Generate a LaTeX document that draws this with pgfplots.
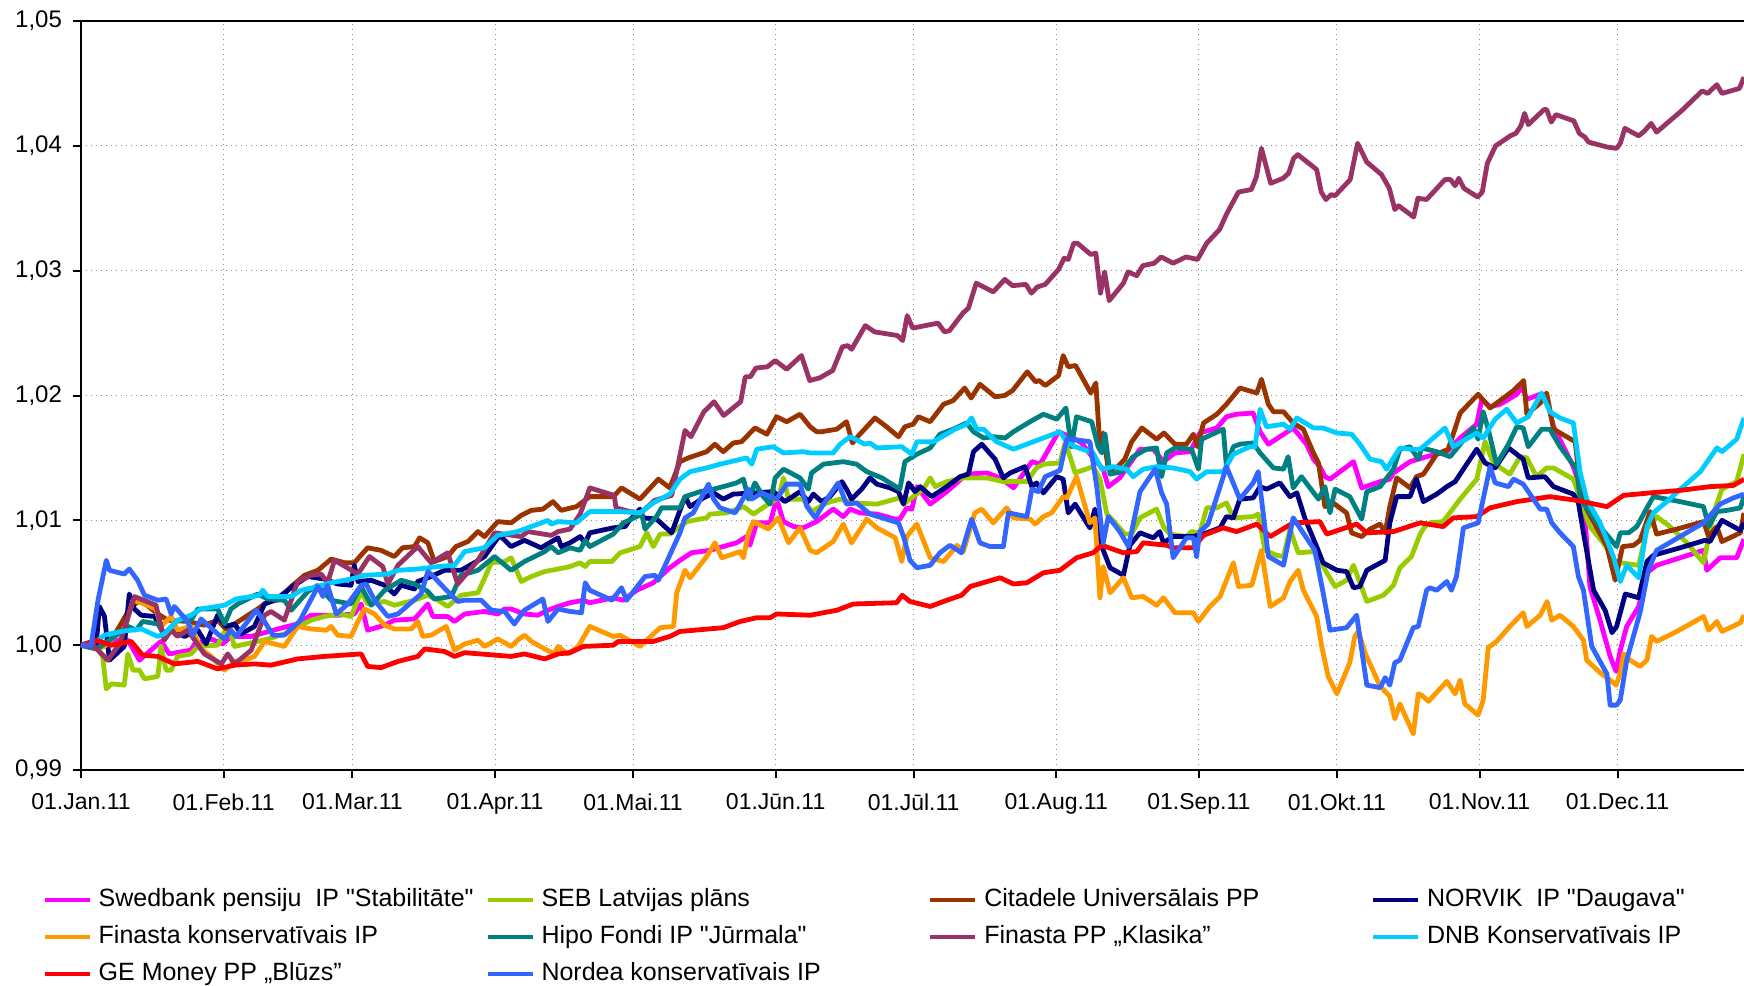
\documentclass[border=0pt]{standalone}
\usepackage{fontspec}
\setmainfont{Liberation Sans}[Ligatures=TeXOff]
\usepackage{pgfplots}
\pgfplotsset{compat=1.18}
\definecolor{cSwed}{HTML}{FF00FF}
\definecolor{cSEB}{HTML}{99CC00}
\definecolor{cCit}{HTML}{993300}
\definecolor{cNor}{HTML}{000080}
\definecolor{cFinK}{HTML}{FF9900}
\definecolor{cHipo}{HTML}{008080}
\definecolor{cKla}{HTML}{993366}
\definecolor{cDNB}{HTML}{00CCFF}
\definecolor{cGE}{HTML}{FF0000}
\definecolor{cNord}{HTML}{3366FF}
\begin{document}
\begin{tikzpicture}
\useasboundingbox (0,0) rectangle (872pt,-492.5pt);
\begin{axis}[
  at={(40.5pt,-385pt)}, anchor=south west,
  width=831.5pt, height=374.5pt, scale only axis,
  xmin=0, xmax=361.5, ymin=0.99, ymax=1.05,
  axis x line*=box, axis y line*=left,
  axis line style={line width=1.3pt, black},
  xtick={0,31,59,90,120,151,181,212,243,273,304,334},
  xticklabels={01.Jan.11,01.Feb.11,01.Mar.11,01.Apr.11,01.Mai.11,01.Jūn.11,01.Jūl.11,01.Aug.11,01.Sep.11,01.Okt.11,01.Nov.11,01.Dec.11},
  ytick={0.99,1,1.01,1.02,1.03,1.04,1.05},
  yticklabels={{0,99},{1,00},{1,01},{1,02},{1,03},{1,04},{1,05}},
  xtick pos=bottom, ytick pos=left,
  tick align=outside, major tick length=4pt,
  every tick/.style={black, line width=1pt},
  grid=major, major grid style={line width=0.5pt, black!45, dotted},
  xticklabel style={font=\fontsize{11.5}{13}\selectfont, yshift=-4.3pt},
  yticklabel style={font=\fontsize{12}{14}\selectfont, xshift=-2pt},
  legend columns=4,
  legend cell align=left,
  legend style={at={(axis description cs:-0.027,-0.156)}, anchor=north west, draw=none, fill=none,
    inner ysep=0pt,
    nodes={inner ysep=0pt, text height=9.5pt, text depth=3pt},
    font=\fontsize{12.5}{15}\selectfont, /tikz/every even column/.append style={column sep=0pt}, row sep=6pt},
  legend image code/.code={\draw[#1, line width=2.2pt] (0pt,0pt) -- (22.5pt,0pt); \path (23.8pt,0pt);},
  every axis plot/.append style={line width=2.4pt, line join=round},
]
% Swedbank
\addplot[cSwed] table {
x y
0 1.0000
3.7 0.9999
6.6 1.0004
10.2 1.0004
12.7 0.9988
15.2 0.9996
17.4 1.0003
19.2 0.9993
23.9 0.9996
24.7 1.0001
28.3 1.0005
30.8 1.0001
32.6 1.0007
37 1.0007
42.8 1.0013
47.1 1.0017
50 1.0024
55.8 1.0024
59.4 1.0025
60.9 1.0033
62.3 1.0012
66 1.0016
68.1 1.0020
72.5 1.0021
75.4 1.0033
76.5 1.0023
79.7 1.0023
81.2 1.0019
83.4 1.0025
87.7 1.0027
90.6 1.0025
92.1 1.0029
93.5 1.0029
96.4 1.0025
99.3 1.0024
101.5 1.0028
103.7 1.0031
106.3 1.0034
109.2 1.0036
110.6 1.0034
115.7 1.0038
117.9 1.0036
120.8 1.0044
124.4 1.0050
128 1.0062
130.2 1.0068
132.7 1.0074
136.7 1.0076
139.6 1.0079
142.5 1.0082
144.7 1.0087
145.4 1.0080
146.9 1.0098
149.8 1.0098
151.2 1.0117
152.7 1.0099
154.9 1.0095
157 1.0094
159.9 1.0099
163.5 1.0109
165.7 1.0103
167.2 1.0109
169.3 1.0106
173 1.0105
177 1.0101
178 1.0101
179.5 1.0110
180.6 1.0109
181.7 1.0127
184.6 1.0113
188.2 1.0123
192.5 1.0137
196.9 1.0138
199.8 1.0134
202.7 1.0126
206.7 1.0147
208.5 1.0145
212.5 1.0171
216.1 1.0165
217.5 1.0162
220 1.0150
222.2 1.0141
223.3 1.0127
225.8 1.0134
230.2 1.0157
233.1 1.0157
235.3 1.0147
237.8 1.0154
241.1 1.0155
243.2 1.0170
246.9 1.0174
249 1.0183
251.2 1.0185
254.8 1.0186
256.3 1.0171
258.1 1.0161
260.6 1.0167
263.5 1.0174
266.4 1.0161
267.9 1.0149
269.3 1.0143
270.4 1.0135
271.5 1.0133
273.7 1.0139
276.6 1.0147
278.4 1.0126
282.4 1.0131
284.5 1.0133
285.3 1.0138
288.9 1.0147
292.5 1.0151
296.9 1.0155
299.8 1.0166
303.4 1.0177
304.5 1.0197
306.3 1.0191
308.5 1.0193
312.1 1.0201
313.2 1.0207
314.3 1.0197
317.2 1.0201
318.6 1.0197
320.1 1.0175
324.4 1.0143
326.6 1.0119
328 1.0047
330.2 1.0020
332.4 0.9991
333.7 0.9979
334.6 0.9996
336 1.0015
338.6 1.0031
340.4 1.0058
342.5 1.0064
347.6 1.0070
352.7 1.0076
353.4 1.0060
356.3 1.0070
359.9 1.0070
361.5 1.0085
};
\addlegendentry{\makebox[191.3pt][l]{Swedbank pensiju\ \ IP "Stabilitāte"}}
% SEB
\addplot[cSEB] table {
x y
0 1.0000
3.3 0.9999
4.7 0.9991
5.5 0.9965
6.6 0.9969
9.4 0.9968
10.2 0.9993
11.3 0.9980
12.7 0.9980
13.8 0.9973
16.7 0.9975
17.4 0.9999
18.5 0.9980
19.6 0.9980
21 0.9991
23.9 0.9993
25.4 0.9999
29.7 1.0000
31.9 1.0016
33.4 0.9999
38.4 1.0003
40.6 1.0005
44.2 1.0009
50 1.0020
52.9 1.0023
56.5 1.0025
58.7 1.0023
60.9 1.0043
62.3 1.0033
66 1.0035
68.1 1.0032
72.5 1.0036
75.4 1.0040
77.6 1.0036
79.7 1.0031
82.6 1.0040
86.3 1.0042
89.2 1.0066
92.1 1.0067
93.5 1.0070
95.7 1.0051
97.9 1.0055
100.8 1.0059
103.7 1.0061
106.3 1.0063
108.5 1.0066
109.6 1.0063
110.6 1.0067
115.4 1.0067
117.2 1.0074
121.5 1.0079
123 1.0090
124.4 1.0079
125.9 1.0089
128 1.0089
130.2 1.0095
131.7 1.0099
136 1.0102
136.7 1.0105
140.4 1.0106
144 1.0111
146.2 1.0105
149.8 1.0114
151.6 1.0118
152.7 1.0134
153.8 1.0117
157 1.0117
158.8 1.0107
162.1 1.0114
165 1.0117
167.9 1.0114
173 1.0113
178 1.0118
178.8 1.0113
180.9 1.0119
183.1 1.0125
184.6 1.0134
185.7 1.0127
188.2 1.0131
191.8 1.0134
196.9 1.0134
200.5 1.0131
205.6 1.0131
207.7 1.0142
209.2 1.0145
212.8 1.0146
213.9 1.0162
215 1.0151
216.1 1.0138
220 1.0143
221.5 1.0133
223 1.0105
224.8 1.0098
226.9 1.0089
228.4 1.0089
230.2 1.0102
233.8 1.0109
235.3 1.0095
236.7 1.0089
240.3 1.0087
241.4 1.0091
243.2 1.0090
244.7 1.0110
246.9 1.0110
249 1.0114
250.5 1.0102
254.8 1.0103
255.9 1.0105
257.4 1.0076
259.9 1.0072
261.4 1.0071
262.8 1.0093
264.6 1.0074
267.9 1.0075
269.3 1.0068
270.8 1.0058
272.6 1.0047
275.1 1.0052
276.6 1.0064
279.5 1.0035
283.1 1.0040
285.3 1.0048
286.7 1.0062
289.2 1.0071
291.1 1.0089
292.1 1.0095
293.2 1.0098
296.1 1.0099
299.8 1.0117
303.4 1.0133
305.2 1.0163
307 1.0146
310.6 1.0137
312.8 1.0151
314.3 1.0150
316.4 1.0135
318.6 1.0142
320.1 1.0142
324.4 1.0133
328 1.0095
330.9 1.0082
333.5 1.0067
334.6 1.0066
338.6 1.0064
340.4 1.0093
342.5 1.0103
345.4 1.0095
349.1 1.0082
352.7 1.0066
354.9 1.0106
356.7 1.0125
359.9 1.0131
361.5 1.0153
};
\addlegendentry{\makebox[191.3pt][l]{SEB Latvijas plāns}}
% Citadele
\addplot[cCit] table {
x y
0 1.0000
3.7 0.9997
6.6 1.0004
10.9 1.0031
13 1.0036
16.7 1.0025
18.9 1.0020
23.2 1.0019
26.8 1.0016
29.7 1.0020
31.5 1.0013
33.4 1.0017
38.4 1.0029
41 1.0036
42.8 1.0036
45.7 1.0047
48.6 1.0056
51.5 1.0060
54.4 1.0069
57.3 1.0066
59.4 1.0066
62.3 1.0078
65.2 1.0076
68.1 1.0071
69.9 1.0078
72.5 1.0079
73.6 1.0086
75.4 1.0082
76.8 1.0067
79.7 1.0071
81.5 1.0079
84.1 1.0083
86.3 1.0091
87.7 1.0087
90.6 1.0099
93.5 1.0098
95.7 1.0104
97.9 1.0108
100.4 1.0109
102.6 1.0115
104.4 1.0108
107.7 1.0111
110.6 1.0119
115.7 1.0119
117.5 1.0126
121.5 1.0117
125.5 1.0133
128 1.0126
130.2 1.0147
132 1.0150
136 1.0155
137.8 1.0161
139.6 1.0155
141.8 1.0162
143.6 1.0163
146.5 1.0174
149.1 1.0169
151.2 1.0183
153.4 1.0179
156.3 1.0185
158.5 1.0175
159.9 1.0171
161 1.0171
164.3 1.0173
166.4 1.0179
167.7 1.0162
169.3 1.0169
172.6 1.0182
175.1 1.0175
177.7 1.0167
179.1 1.0175
180.9 1.0177
182 1.0183
184.6 1.0179
187.5 1.0193
189.6 1.0196
192.1 1.0206
193.5 1.0198
195.4 1.0209
198.7 1.0199
200.8 1.0200
202.5 1.0204
205.7 1.0219
207.5 1.0211
208.3 1.0212
209.6 1.0208
212.5 1.0216
213.5 1.0232
214.6 1.0223
216.2 1.0224
219.5 1.0202
220.6 1.0210
221.5 1.0159
222.2 1.0170
223.3 1.0141
225.1 1.0142
226.9 1.0149
228.4 1.0163
230.6 1.0174
233.8 1.0165
235.4 1.0170
237.8 1.0161
240.3 1.0161
241.8 1.0169
242.7 1.0159
244 1.0178
246.9 1.0185
249 1.0193
251.9 1.0206
255.6 1.0202
256.6 1.0213
258.1 1.0193
259.2 1.0187
261.4 1.0187
263.5 1.0178
265.7 1.0173
267.9 1.0154
269 1.0146
270.4 1.0111
272.2 1.0114
275.1 1.0106
276.2 1.0090
278.4 1.0087
280.2 1.0093
282.4 1.0097
283.5 1.0090
284.5 1.0111
286 1.0134
288.9 1.0126
290.3 1.0135
291.8 1.0137
294.7 1.0153
297.2 1.0157
299.8 1.0186
303.7 1.0201
306.3 1.0190
311.4 1.0204
313.6 1.0212
314.3 1.0185
317.2 1.0194
318.6 1.0202
320.1 1.0173
324.8 1.0163
325.9 1.0127
327.3 1.0109
331.7 1.0079
333.5 1.0052
335.1 1.0079
337.5 1.0080
338.9 1.0084
341.1 1.0107
342.5 1.0089
346.9 1.0093
352.7 1.0099
353.8 1.0087
355.6 1.0095
356.7 1.0083
360.7 1.0090
361.5 1.0106
};
\addlegendentry{\makebox[191.3pt][l]{Citadele Universālais PP}}
% NORVIK
\addplot[cNor] table {
x y
0 1.0000
3.3 1.0000
4.0 1.0031
5.1 1.0023
6.2 0.9988
9.4 0.9999
10.5 1.0041
11.6 1.0029
13.1 1.0024
16 1.0023
18.1 1.0008
19.6 1.0012
22.5 1.0007
25.4 1.0012
27.2 1.0001
29.7 1.0024
31.5 1.0015
33.4 1.0017
34.8 1.0009
37.7 1.0015
39.9 1.0033
42.1 1.0036
46.4 1.0048
49.3 1.0055
52.9 1.0053
55.8 1.0049
58.7 1.0048
59.4 1.0064
60.2 1.0051
63.1 1.0052
66 1.0048
68.1 1.0041
69.6 1.0048
72.5 1.0045
73.2 1.0051
76.1 1.0055
79 1.0060
82.6 1.0060
85.5 1.0066
87.7 1.0071
91 1.0088
93.5 1.0079
96.4 1.0084
100 1.0078
103.7 1.0086
104.4 1.0079
106.3 1.0082
108.5 1.0087
109.6 1.0082
110.6 1.0090
115.7 1.0094
118.3 1.0095
119 1.0099
121.5 1.0109
122.2 1.0102
125.1 1.0101
128.4 1.0090
131.3 1.0119
132.4 1.0111
135.3 1.0118
137.5 1.0122
139.6 1.0117
141.8 1.0121
146.2 1.0122
150.5 1.0123
153 1.0115
156.3 1.0123
158.1 1.0115
159.2 1.0121
161 1.0115
162.8 1.0119
165.4 1.0131
166.4 1.0125
167.5 1.0117
169.7 1.0125
171.5 1.0134
173 1.0129
175.9 1.0126
177.7 1.0123
178.8 1.0113
179.9 1.0130
181.3 1.0123
182.4 1.0127
184.9 1.0119
188.2 1.0127
191.1 1.0135
192.9 1.0137
194 1.0155
195.8 1.0161
198.7 1.0149
200.5 1.0134
202 1.0138
205.2 1.0143
206.7 1.0127
207.7 1.0130
209.2 1.0122
212.1 1.0135
213.5 1.0133
214.6 1.0106
216.1 1.0113
219.3 1.0094
220.4 1.0109
221.9 1.0079
223.7 1.0062
226.6 1.0056
228 1.0080
230.2 1.0090
233.1 1.0086
234.5 1.0091
235.3 1.0082
237.4 1.0087
241.8 1.0087
244.7 1.0090
247.6 1.0094
249 1.0103
250.5 1.0102
251.9 1.0117
254.8 1.0118
256.3 1.0127
257.7 1.0125
260.6 1.0130
262.8 1.0119
264.3 1.0122
266.1 1.0101
268.6 1.0079
270 1.0066
271.5 1.0063
273 1.0060
275.1 1.0059
276.6 1.0046
278 1.0047
279.5 1.0060
283.5 1.0068
284.5 1.0098
286 1.0119
288.9 1.0119
290.3 1.0133
291.8 1.0115
294.7 1.0121
296.9 1.0127
298.7 1.0131
300.5 1.0141
303.4 1.0157
305.2 1.0146
307.4 1.0142
310.3 1.0158
313.5 1.0149
314.6 1.0134
318.2 1.0135
320.1 1.0127
324.4 1.0121
325.5 1.0114
326.6 1.0090
328.8 1.0044
331.3 1.0028
332.8 1.0010
333.8 1.0015
335.7 1.0041
338.6 1.0038
340.4 1.0067
341.8 1.0072
347.6 1.0078
353 1.0084
354.1 1.0083
356.7 1.0100
360.7 1.0092
361.5 1.0098
};
\addlegendentry{NORVIK\ \ IP "Daugava"}
% Finasta konservativais
\addplot[cFinK] table {
x y
0 1.0000
3.3 0.9997
5.1 0.9999
7.3 1.0007
9.4 1.0012
11.3 1.0036
13.8 1.0033
16.3 1.0029
17.4 1.0015
19.6 1.0023
21 1.0012
23.9 1.0015
26.1 0.9997
28.3 0.9991
31.2 0.9980
33.4 0.9987
35.5 0.9988
37.7 0.9991
39.9 1.0003
44.2 0.9999
47.1 1.0015
50 1.0013
53.3 1.0012
54.4 1.0015
55.8 1.0008
58.7 1.0007
60.2 1.0019
61.6 1.0029
63.8 1.0025
66 1.0016
68.1 1.0013
71.8 1.0013
73.2 1.0019
74.3 1.0007
76.1 1.0008
79.4 1.0015
81.2 0.9996
83.4 1.0001
86.3 1.0004
87.7 0.9999
90.6 1.0005
93.5 0.9999
94.9 1.0004
96.4 1.0008
97.9 1.0003
100.8 0.9997
102.9 0.9993
103.7 0.9999
105.8 0.9993
108.1 0.9999
110.6 1.0015
115.7 1.0007
117.2 1.0008
121.5 0.9999
125.9 1.0014
128.8 1.0015
129.5 1.0042
131.3 1.0060
132.4 1.0054
136 1.0071
137.8 1.0082
139.3 1.0070
143.3 1.0075
144 1.0070
145.1 1.0090
146.2 1.0099
149.4 1.0093
151.6 1.0102
153.8 1.0082
156.3 1.0094
158.5 1.0076
159.9 1.0074
163.5 1.0083
165.7 1.0097
167.5 1.0082
170.8 1.0101
173 1.0094
177 1.0086
178.4 1.0067
179.5 1.0087
181.7 1.0097
184.6 1.0070
187.5 1.0067
190.4 1.0080
191.8 1.0075
194.3 1.0106
195.8 1.0109
198.3 1.0098
201.2 1.0110
202.7 1.0102
206.3 1.0101
207.4 1.0097
209.2 1.0103
211 1.0106
213.5 1.0119
214.3 1.0118
216.4 1.0135
219.3 1.0098
220.4 1.0102
221.5 1.0038
222.2 1.0063
223.7 1.0042
226.6 1.0054
228.4 1.0038
230.9 1.0039
233.8 1.0032
235.3 1.0038
237.8 1.0026
241.8 1.0026
242.9 1.0019
245.4 1.0031
247.6 1.0039
249 1.0052
250.5 1.0066
251.6 1.0047
254.5 1.0048
256.6 1.0076
258.5 1.0031
261.4 1.0038
262.8 1.0051
264.6 1.0060
265.7 1.0044
268.6 1.0023
269.7 0.9999
271.1 0.9975
273 0.9961
275.8 0.9986
276.9 1.0007
277.7 1.0011
279.1 0.9994
282.4 0.9967
284.5 0.9959
285.6 0.9941
286.7 0.9953
289.6 0.9929
290.7 0.9961
291.4 0.9960
292.9 0.9955
296.9 0.9971
298.7 0.9961
299.8 0.9972
300.8 0.9953
303.7 0.9944
304.8 0.9956
305.9 0.9998
307.7 1.0003
310.6 1.0015
313.5 1.0026
314.3 1.0015
317.2 1.0024
318.7 1.0035
319.7 1.0020
321.5 1.0024
324.4 1.0015
326.6 1.0004
327.3 0.9988
330.2 0.9978
332.4 0.9972
333.7 0.9968
334.6 0.9978
335.3 0.9993
336.7 0.9988
338.9 0.9983
340.4 0.9988
341.4 1.0007
342.5 1.0003
346.9 1.0011
352.7 1.0023
353.8 1.0012
355.6 1.0019
356.7 1.0011
360.7 1.0018
361.5 1.0024
};
\addlegendentry{\makebox[191.3pt][l]{Finasta konservatīvais IP}}
% Hipo Fondi
\addplot[cHipo] table {
x y
0 1.0000
3.3 0.9997
4.7 1.0000
7.3 1.0007
10.2 1.0015
12 1.0012
13.4 1.0019
16.7 1.0017
18.1 1.0009
21 1.0020
23.9 1.0020
25.4 1.0029
29.7 1.0029
31.2 1.0017
32.6 1.0029
34.1 1.0033
38.4 1.0041
40.6 1.0037
44.2 1.0036
45.7 1.0028
49.3 1.0043
51.5 1.0048
54.4 1.0036
58.7 1.0033
60.9 1.0047
63.1 1.0032
66 1.0044
69.6 1.0052
72.5 1.0049
75.4 1.0043
76.8 1.0037
80.5 1.0039
82.6 1.0056
86.3 1.0060
89.9 1.0071
93.5 1.0060
96.4 1.0067
100.8 1.0075
102.2 1.0079
103.7 1.0074
106.3 1.0078
108.5 1.0076
109.6 1.0084
110.6 1.0079
115.7 1.0089
117.9 1.0098
120.8 1.0103
121.9 1.0105
122.6 1.0093
125.1 1.0103
126.2 1.0110
130.2 1.0110
131.3 1.0119
134.6 1.0123
137.5 1.0125
139.6 1.0127
142.5 1.0130
144 1.0133
145.1 1.0117
146.5 1.0130
148.3 1.0119
149.8 1.0113
150.9 1.0134
152.7 1.0141
156.3 1.0134
158.1 1.0125
158.8 1.0138
161.4 1.0145
165.7 1.0147
168.6 1.0145
170.8 1.0139
174.1 1.0134
178 1.0125
179.1 1.0147
181.7 1.0153
184.6 1.0158
186.7 1.0169
189.6 1.0173
192.5 1.0178
194 1.0171
196.2 1.0166
198.3 1.0167
200.9 1.0166
202.7 1.0171
206.3 1.0179
209.2 1.0185
212.1 1.0181
214.1 1.0190
215.3 1.0159
216.4 1.0183
219.7 1.0179
221.1 1.0159
221.9 1.0154
222.6 1.0169
223.7 1.0137
226.2 1.0139
228.7 1.0151
231.6 1.0157
233.8 1.0158
234.9 1.0135
236 1.0154
237.8 1.0158
241.4 1.0157
242.9 1.0141
243.6 1.0165
248.3 1.0173
249 1.0143
250.5 1.0159
251.9 1.0161
254.8 1.0162
256.3 1.0154
259.2 1.0142
261.4 1.0141
262.4 1.0151
263.5 1.0126
265.3 1.0135
269 1.0117
270.4 1.0127
271.5 1.0106
272.6 1.0125
275.8 1.0119
278.4 1.0101
279.5 1.0123
282.4 1.0127
285.3 1.0141
286.7 1.0157
288.9 1.0159
290.7 1.0149
291.4 1.0158
294.7 1.0155
297.6 1.0151
299.8 1.0161
302.7 1.0174
303.7 1.0165
304.8 1.0187
305.9 1.0173
307.7 1.0145
310.3 1.0161
312.1 1.0175
313.5 1.0174
314.6 1.0159
317.5 1.0173
319.3 1.0173
321.5 1.0159
325.1 1.0141
325.9 1.0117
330.2 1.0095
333.8 1.0079
334.6 1.0090
336.4 1.0090
338.2 1.0095
340.4 1.0110
341.8 1.0119
347.6 1.0115
352.7 1.0111
353.8 1.0095
355.6 1.0107
357.8 1.0108
360.7 1.0110
361.5 1.0119
};
\addlegendentry{\makebox[191.3pt][l]{Hipo Fondi IP "Jūrmala"}}
% Finasta PP Klasika
\addplot[cKla] table {
x y
0 1.0000
2.9 0.9999
5.8 0.9988
8.4 1.0001
11.6 1.0039
16.3 1.0032
18.1 1.0004
19.6 1.0012
21 1.0007
23.2 1.0012
26.8 0.9993
30.5 0.9985
31.9 0.9993
33.4 0.9985
37 0.9996
39.9 1.0024
41.3 1.0027
44.2 1.0020
47.1 1.0051
50 1.0056
52.2 1.0057
53.6 1.0050
55.1 1.0068
60.2 1.0057
62.7 1.0071
65.6 1.0063
66.7 1.0049
68.9 1.0064
73.2 1.0079
76.1 1.0066
79.7 1.0074
81.9 1.0049
86.3 1.0068
89.9 1.0090
95.7 1.0087
97.1 1.0091
102.2 1.0088
103.7 1.0091
106.3 1.0093
108.5 1.0105
110.6 1.0126
115.9 1.0120
116.3 1.0110
119.3 1.0107
121.7 1.0106
124.7 1.0116
128.4 1.0120
131.3 1.0172
132.6 1.0167
135.4 1.0187
137.6 1.0195
139.7 1.0184
143.4 1.0195
144.4 1.0215
145.5 1.0215
146.7 1.0222
149.2 1.0223
150.9 1.0228
153.4 1.0221
156.6 1.0232
158.4 1.0212
160.5 1.0214
163.4 1.0220
165.5 1.0239
166.7 1.0240
167.5 1.0237
170.5 1.0256
172.5 1.0251
177.5 1.0248
178.6 1.0244
179.6 1.0264
180.8 1.0254
186.3 1.0258
187.7 1.0251
188.8 1.0252
191.7 1.0266
192.9 1.0270
194.6 1.0290
198.3 1.0283
200.8 1.0293
202.5 1.0288
205.4 1.0289
206.6 1.0282
207.9 1.0287
209.6 1.0289
212.5 1.0301
213.7 1.0310
214.6 1.0309
215.8 1.0322
216.6 1.0322
219.5 1.0313
220.6 1.0314
221.6 1.0282
222.5 1.0299
223.5 1.0276
226.6 1.0290
227.6 1.0299
229.5 1.0296
230.8 1.0304
233.3 1.0306
234.8 1.0311
237.4 1.0306
240.2 1.0311
242.7 1.0309
244.7 1.0322
247.5 1.0333
249.1 1.0346
251.6 1.0363
254.4 1.0365
255.5 1.0375
256.6 1.0398
258.6 1.0370
261.3 1.0374
262.5 1.0378
263.6 1.0390
264.5 1.0393
268.6 1.0381
269.6 1.0363
270.6 1.0357
271.8 1.0361
272.6 1.0360
275.9 1.0373
277.5 1.0402
279.5 1.0387
282.7 1.0377
284.4 1.0366
285.6 1.0349
286.4 1.0352
289.7 1.0343
290.6 1.0358
292.5 1.0357
296.5 1.0373
297.7 1.0373
298.7 1.0368
299.5 1.0374
300.6 1.0366
303.6 1.0359
304.6 1.0363
305.7 1.0386
307.5 1.0400
310.7 1.0408
311.9 1.0410
313 1.0416
313.8 1.0426
314.6 1.0417
318 1.0429
318.6 1.0429
319.6 1.0419
320.6 1.0425
324.5 1.0420
325.7 1.0410
326.9 1.0407
327.7 1.0403
331.8 1.0399
333.8 1.0398
334.6 1.0402
335.6 1.0414
338.6 1.0408
339.9 1.0412
341.3 1.0418
342.5 1.0411
347.9 1.0428
352.4 1.0444
353.6 1.0442
355.6 1.0449
356.7 1.0442
360.5 1.0446
361.5 1.0455
};
\addlegendentry{\makebox[191.3pt][l]{Finasta PP „Klasika”}}
% DNB
\addplot[cDNB] table {
x y
0 1.0000
3.7 1.0004
5.1 1.0008
8.7 1.0011
13.1 1.0013
16.7 1.0007
18.1 1.0009
21 1.0020
23.9 1.0024
26.1 1.0029
31.2 1.0032
33.7 1.0037
38.8 1.0040
39.5 1.0044
40.6 1.0039
45.7 1.0039
47.9 1.0044
51.5 1.0047
54.4 1.0050
58.7 1.0053
61.6 1.0056
66.7 1.0057
68.9 1.0060
73.2 1.0061
77.6 1.0063
81.2 1.0064
83.4 1.0075
87.7 1.0078
90.6 1.0088
94.9 1.0091
98.6 1.0096
101.5 1.0100
102.2 1.0097
103.7 1.0099
107.7 1.0098
110.6 1.0107
117.2 1.0107
121.5 1.0106
124.4 1.0114
128 1.0121
130.2 1.0133
132.4 1.0139
136 1.0142
138.9 1.0145
144.7 1.0150
145.8 1.0145
146.9 1.0157
150.5 1.0159
152.7 1.0154
157 1.0155
158.5 1.0154
163.5 1.0154
165 1.0161
167.2 1.0167
170.4 1.0161
171.5 1.0162
173 1.0158
178.4 1.0159
180.6 1.0153
181.7 1.0163
185.3 1.0163
186.7 1.0166
190 1.0173
192.5 1.0177
193.6 1.0182
194.7 1.0173
196.2 1.0173
199 1.0163
202.7 1.0157
206.3 1.0162
209.2 1.0166
212.8 1.0171
214.3 1.0163
216.1 1.0159
220 1.0154
221.9 1.0141
224.4 1.0143
227.3 1.0141
228.7 1.0135
230.9 1.0141
233.8 1.0143
237.4 1.0142
241.1 1.0139
242.5 1.0133
244.7 1.0139
248.3 1.0139
250.5 1.0153
254.1 1.0159
255.2 1.0159
256.3 1.0189
257.7 1.0175
261.4 1.0177
262.8 1.0173
264.3 1.0182
267.9 1.0174
270 1.0174
273 1.0170
276.2 1.0169
278 1.0161
280.2 1.0149
282.7 1.0147
283.8 1.0141
286.7 1.0158
288.9 1.0157
291.1 1.0157
296.5 1.0174
298.3 1.0159
303.4 1.0170
304.8 1.0166
307.4 1.0181
309.9 1.0189
312.1 1.0178
314.6 1.0183
317.5 1.0202
319.3 1.0187
321.5 1.0182
324.4 1.0178
325.9 1.0138
327.3 1.0117
330.2 1.0098
333.1 1.0071
334.6 1.0051
336 1.0064
338.6 1.0054
340.4 1.0095
341.8 1.0106
344.7 1.0115
348.3 1.0127
352 1.0139
355.6 1.0158
356.7 1.0155
359.9 1.0165
361.5 1.0182
};
\addlegendentry{DNB Konservatīvais IP}
% GE Money
\addplot[cGE] table {
x y
0 1.0000
3.3 1.0004
6.6 1.0000
10.9 1.0003
13.4 0.9992
16.7 0.9991
20.3 0.9985
25.4 0.9987
29.7 0.9981
33.4 0.9984
37.7 0.9985
41.3 0.9984
47.1 0.9989
52.9 0.9991
60.9 0.9993
62.3 0.9983
65.2 0.9982
68.9 0.9987
73.2 0.9991
74.7 0.9997
79 0.9995
81.2 0.9991
83.4 0.9994
93.5 0.9991
96.4 0.9993
100.8 0.9989
103.7 0.9993
106.3 0.9994
109.2 0.9999
115.7 1.0000
116.8 1.0003
124.4 1.0003
128 1.0007
130.2 1.0011
139.6 1.0014
143.3 1.0019
146.9 1.0022
149.8 1.0022
151.2 1.0025
158.5 1.0024
164.3 1.0028
167.9 1.0033
177.3 1.0034
178.5 1.0040
180.2 1.0035
184.6 1.0031
188.2 1.0036
191.4 1.0040
193.3 1.0047
199.8 1.0054
202.7 1.0049
205.6 1.0050
209.2 1.0058
212.8 1.0060
216.4 1.0070
220 1.0074
221.9 1.0080
226.6 1.0074
229.5 1.0075
230.9 1.0082
236 1.0080
237.4 1.0078
241.8 1.0078
244 1.0088
248.3 1.0094
251.2 1.0091
255.6 1.0097
258.5 1.0087
263.5 1.0098
269.3 1.0099
270.8 1.0089
277.3 1.0097
279.5 1.0090
285.3 1.0091
291.1 1.0098
296.1 1.0095
298.3 1.0102
303.4 1.0103
306.3 1.0110
312.1 1.0115
319.3 1.0119
325.1 1.0116
331.7 1.0111
335.3 1.0120
341.1 1.0122
347.6 1.0124
354.1 1.0127
359.2 1.0128
361.5 1.0133
};
\addlegendentry{\makebox[191.3pt][l]{GE Money PP „Blūzs”}}
% Nordea
\addplot[cNord] table {
x y
0 1.0000
2.2 1.0000
3.7 1.0036
5.5 1.0068
6.2 1.0060
9.4 1.0057
10.5 1.0061
12.3 1.0052
13.8 1.0040
16.7 1.0036
18.5 1.0037
19.6 1.0025
20.3 1.0031
23.2 1.0019
24.3 1.0008
26.1 1.0021
29.7 1.0009
31.2 1.0005
32.6 1.0012
33.7 1.0007
38.1 1.0028
39.9 1.0019
41.7 1.0008
44.2 1.0008
47.5 1.0019
51.5 1.0047
52.6 1.0039
53.6 1.0048
55.5 1.0025
58 1.0033
60.9 1.0048
62 1.0049
63.8 1.0036
66.7 1.0023
68.9 1.0025
73.9 1.0041
75.4 1.0059
76.1 1.0057
79.7 1.0043
81.9 1.0035
83.4 1.0036
87 1.0036
89.2 1.0028
92.1 1.0027
94.2 1.0017
96.4 1.0028
100.4 1.0037
101.5 1.0019
103.7 1.0029
106.3 1.0027
108.8 1.0026
109.6 1.0050
110.6 1.0044
115.4 1.0036
117.5 1.0046
118.6 1.0036
122.6 1.0055
124.8 1.0056
125.5 1.0052
130.2 1.0090
131.3 1.0102
133.1 1.0106
136.4 1.0129
137.5 1.0117
138.9 1.0110
142.2 1.0106
145.1 1.0125
145.8 1.0117
148 1.0122
149.8 1.0119
151.2 1.0117
153.4 1.0129
156.3 1.0129
157.8 1.0111
159.6 1.0102
161.4 1.0113
164.6 1.0130
166.4 1.0113
168.6 1.0114
171.5 1.0105
177.7 1.0098
178.8 1.0087
180.2 1.0068
181.7 1.0062
184.6 1.0064
186.7 1.0074
188.9 1.0080
191.4 1.0074
193.6 1.0101
195.4 1.0082
197.6 1.0079
200.5 1.0079
201.6 1.0106
205.6 1.0103
206.7 1.0125
208.1 1.0123
209.6 1.0135
212.8 1.0140
214.3 1.0165
215.3 1.0165
219.3 1.0163
220.8 1.0127
222.2 1.0082
223.3 1.0103
225.8 1.0091
227.7 1.0079
230.2 1.0123
233.5 1.0141
234.9 1.0122
236 1.0113
237.4 1.0070
240.3 1.0086
241.8 1.0086
242.5 1.0071
243.2 1.0091
245 1.0097
249 1.0143
251.9 1.0117
254.8 1.0130
255.9 1.0139
258.1 1.0071
261.4 1.0064
263.5 1.0102
268.2 1.0076
270 1.0042
271.5 1.0012
275.1 1.0014
277.3 1.0024
279.5 0.9968
282.4 0.9966
283.5 0.9974
284.5 0.9968
285.6 0.9986
286.7 0.9988
289.6 1.0014
290.7 1.0015
292.5 1.0044
293.2 1.0046
294.7 1.0044
296.9 1.0051
297.9 1.0044
299 1.0055
300.5 1.0094
303.7 1.0098
306.3 1.0143
307.4 1.0130
310.3 1.0127
311.4 1.0133
313.5 1.0129
317.2 1.0109
318.6 1.0109
319.7 1.0098
321.5 1.0090
324.4 1.0079
325.5 1.0055
326.6 1.0044
328.4 0.9999
331.7 0.9977
332.4 0.9952
333.8 0.9952
334.6 0.9956
336 0.9988
338.9 1.0026
340.7 1.0060
342.5 1.0076
347.6 1.0087
352.7 1.0098
356.3 1.0113
359.2 1.0118
361.5 1.0121
};
\addlegendentry{\makebox[191.3pt][l]{Nordea konservatīvais IP}}
\end{axis}
\end{tikzpicture}
\end{document}
